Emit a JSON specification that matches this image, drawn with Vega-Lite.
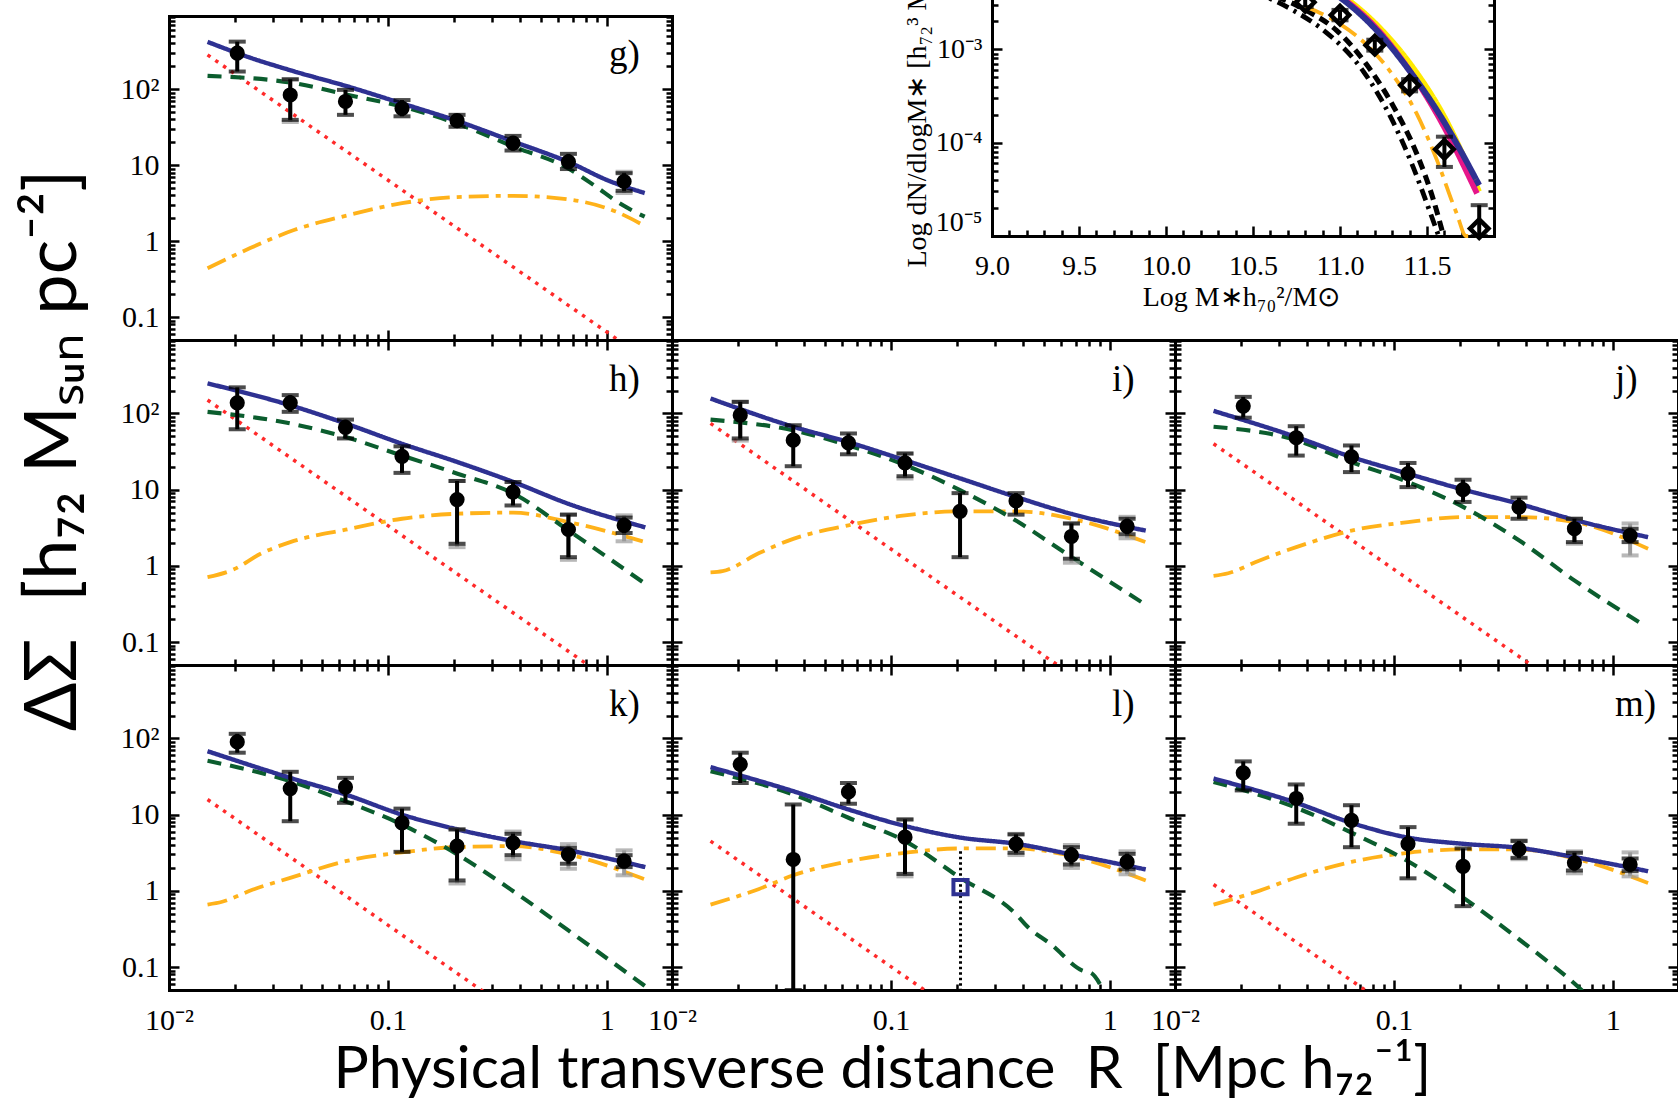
{
"$schema": "https://vega.github.io/schema/vega-lite/v6.json",
"autosize": {"type": "none"},
"padding": {"left": 169, "top": 16, "right": 1509, "bottom": 1082},
"background": "white",
"config": {
  "view": {"stroke": null},
  "axis": {"grid": false, "domainColor": "#000", "domainWidth": 3, "domainCap": "square", "tickColor": "#000", "tickWidth": 2.5, "labelColor": "#000", "labelFont": "Liberation Serif", "labelFontSize": 30, "labelOverlap": false, "titleColor": "#000", "titleFontWeight": "normal"}
},
"datasets": {
  "lines": [
    {"p":"g","s":"red","R":0.015,"v":283},{"p":"g","s":"red","R":1.5,"v":0.0283},
    {"p":"g","s":"org","R":0.015,"v":0.44},{"p":"g","s":"org","R":0.0235,"v":0.81},{"p":"g","s":"org","R":0.0375,"v":1.41},{"p":"g","s":"org","R":0.066,"v":2.2},{"p":"g","s":"org","R":0.116,"v":3.16},{"p":"g","s":"org","R":0.203,"v":3.8},{"p":"g","s":"org","R":0.374,"v":3.95},{"p":"g","s":"org","R":0.689,"v":3.5},{"p":"g","s":"org","R":1.1,"v":2.45},{"p":"g","s":"org","R":1.46,"v":1.64},
    {"p":"g","s":"grn","R":0.015,"v":150},{"p":"g","s":"grn","R":0.0375,"v":120},{"p":"g","s":"grn","R":0.066,"v":84},{"p":"g","s":"grn","R":0.116,"v":59},{"p":"g","s":"grn","R":0.203,"v":36},{"p":"g","s":"grn","R":0.374,"v":17.6},{"p":"g","s":"grn","R":0.664,"v":9.1},{"p":"g","s":"grn","R":0.87,"v":5.5},{"p":"g","s":"grn","R":1.155,"v":3.1},{"p":"g","s":"grn","R":1.49,"v":2.1},
    {"p":"g","s":"blu","R":0.015,"v":420},{"p":"g","s":"blu","R":0.0235,"v":260},{"p":"g","s":"blu","R":0.0375,"v":171},{"p":"g","s":"blu","R":0.066,"v":108},{"p":"g","s":"blu","R":0.116,"v":65},{"p":"g","s":"blu","R":0.203,"v":39},{"p":"g","s":"blu","R":0.374,"v":20.5},{"p":"g","s":"blu","R":0.689,"v":10.6},{"p":"g","s":"blu","R":1.0,"v":6.4},{"p":"g","s":"blu","R":1.49,"v":4.3},

    {"p":"h","s":"red","R":0.015,"v":150},{"p":"h","s":"red","R":1.5,"v":0.015},
    {"p":"h","s":"org","R":0.015,"v":0.71},{"p":"h","s":"org","R":0.0198,"v":0.9},{"p":"h","s":"org","R":0.0262,"v":1.44},{"p":"h","s":"org","R":0.0358,"v":2.05},{"p":"h","s":"org","R":0.064,"v":2.98},{"p":"h","s":"org","R":0.116,"v":4.15},{"p":"h","s":"org","R":0.208,"v":4.83},{"p":"h","s":"org","R":0.374,"v":5.0},{"p":"h","s":"org","R":0.67,"v":3.75},{"p":"h","s":"org","R":1.5,"v":2.05},
    {"p":"h","s":"grn","R":0.015,"v":105},{"p":"h","s":"grn","R":0.0358,"v":74},{"p":"h","s":"grn","R":0.064,"v":49},{"p":"h","s":"grn","R":0.116,"v":28},{"p":"h","s":"grn","R":0.208,"v":16.2},{"p":"h","s":"grn","R":0.374,"v":8.9},{"p":"h","s":"grn","R":0.67,"v":2.9},{"p":"h","s":"grn","R":1.5,"v":0.58},
    {"p":"h","s":"blu","R":0.015,"v":248},{"p":"h","s":"blu","R":0.0358,"v":128},{"p":"h","s":"blu","R":0.064,"v":74},{"p":"h","s":"blu","R":0.116,"v":40},{"p":"h","s":"blu","R":0.208,"v":23},{"p":"h","s":"blu","R":0.374,"v":12.6},{"p":"h","s":"blu","R":0.67,"v":6.5},{"p":"h","s":"blu","R":1.5,"v":3.2},

    {"p":"i","s":"red","R":0.015,"v":74},{"p":"i","s":"red","R":1.5,"v":0.0074},
    {"p":"i","s":"org","R":0.015,"v":0.82},{"p":"i","s":"org","R":0.017,"v":0.85},{"p":"i","s":"org","R":0.025,"v":1.47},{"p":"i","s":"org","R":0.0358,"v":2.26},{"p":"i","s":"org","R":0.064,"v":3.4},{"p":"i","s":"org","R":0.116,"v":4.6},{"p":"i","s":"org","R":0.208,"v":5.2},{"p":"i","s":"org","R":0.374,"v":5.2},{"p":"i","s":"org","R":0.67,"v":4.15},{"p":"i","s":"org","R":1.46,"v":2.05},
    {"p":"i","s":"grn","R":0.015,"v":83},{"p":"i","s":"grn","R":0.0358,"v":60},{"p":"i","s":"grn","R":0.064,"v":38},{"p":"i","s":"grn","R":0.116,"v":21},{"p":"i","s":"grn","R":0.208,"v":9.8},{"p":"i","s":"grn","R":0.374,"v":3.9},{"p":"i","s":"grn","R":0.67,"v":1.3},{"p":"i","s":"grn","R":1.43,"v":0.32},
    {"p":"i","s":"blu","R":0.015,"v":157},{"p":"i","s":"blu","R":0.0358,"v":67},{"p":"i","s":"blu","R":0.064,"v":42},{"p":"i","s":"blu","R":0.116,"v":24.3},{"p":"i","s":"blu","R":0.208,"v":14},{"p":"i","s":"blu","R":0.374,"v":8},{"p":"i","s":"blu","R":0.67,"v":4.8},{"p":"i","s":"blu","R":1.46,"v":2.9},

    {"p":"j","s":"red","R":0.015,"v":40},{"p":"j","s":"red","R":1.5,"v":0.004},
    {"p":"j","s":"org","R":0.015,"v":0.74},{"p":"j","s":"org","R":0.0175,"v":0.8},{"p":"j","s":"org","R":0.0242,"v":1.17},{"p":"j","s":"org","R":0.0358,"v":1.76},{"p":"j","s":"org","R":0.064,"v":2.9},{"p":"j","s":"org","R":0.116,"v":3.75},{"p":"j","s":"org","R":0.208,"v":4.37},{"p":"j","s":"org","R":0.374,"v":4.37},{"p":"j","s":"org","R":0.67,"v":3.75},{"p":"j","s":"org","R":1.45,"v":1.68},
    {"p":"j","s":"grn","R":0.015,"v":67},{"p":"j","s":"grn","R":0.0358,"v":44.6},{"p":"j","s":"grn","R":0.064,"v":23},{"p":"j","s":"grn","R":0.116,"v":12.6},{"p":"j","s":"grn","R":0.208,"v":5.9},{"p":"j","s":"grn","R":0.374,"v":2.15},{"p":"j","s":"grn","R":0.67,"v":0.64},{"p":"j","s":"grn","R":1.4,"v":0.164},
    {"p":"j","s":"blu","R":0.015,"v":108},{"p":"j","s":"blu","R":0.0358,"v":49},{"p":"j","s":"blu","R":0.064,"v":26.9},{"p":"j","s":"blu","R":0.116,"v":16.2},{"p":"j","s":"blu","R":0.208,"v":10},{"p":"j","s":"blu","R":0.374,"v":6.5},{"p":"j","s":"blu","R":0.67,"v":4.0},{"p":"j","s":"blu","R":1.45,"v":2.38},

    {"p":"k","s":"red","R":0.015,"v":15.8},{"p":"k","s":"red","R":1.5,"v":0.00158},
    {"p":"k","s":"org","R":0.015,"v":0.66},{"p":"k","s":"org","R":0.0175,"v":0.72},{"p":"k","s":"org","R":0.0242,"v":1.04},{"p":"k","s":"org","R":0.0358,"v":1.48},{"p":"k","s":"org","R":0.064,"v":2.45},{"p":"k","s":"org","R":0.116,"v":3.2},{"p":"k","s":"org","R":0.208,"v":3.75},{"p":"k","s":"org","R":0.374,"v":3.86},{"p":"k","s":"org","R":0.67,"v":3.0},{"p":"k","s":"org","R":1.5,"v":1.41},
    {"p":"k","s":"grn","R":0.015,"v":51},{"p":"k","s":"grn","R":0.0358,"v":27.5},{"p":"k","s":"grn","R":0.064,"v":15},{"p":"k","s":"grn","R":0.116,"v":7.4},{"p":"k","s":"grn","R":0.208,"v":3.0},{"p":"k","s":"grn","R":0.374,"v":0.99},{"p":"k","s":"grn","R":0.67,"v":0.3},{"p":"k","s":"grn","R":1.5,"v":0.056},
    {"p":"k","s":"blu","R":0.015,"v":68},{"p":"k","s":"blu","R":0.0358,"v":30.4},{"p":"k","s":"blu","R":0.064,"v":18.4},{"p":"k","s":"blu","R":0.116,"v":10},{"p":"k","s":"blu","R":0.208,"v":6.4},{"p":"k","s":"blu","R":0.374,"v":4.5},{"p":"k","s":"blu","R":0.67,"v":3.4},{"p":"k","s":"blu","R":1.5,"v":2.05},

    {"p":"l","s":"red","R":0.015,"v":4.5},{"p":"l","s":"red","R":1.5,"v":0.00045},
    {"p":"l","s":"org","R":0.015,"v":0.66},{"p":"l","s":"org","R":0.025,"v":1.06},{"p":"l","s":"org","R":0.0358,"v":1.6},{"p":"l","s":"org","R":0.064,"v":2.45},{"p":"l","s":"org","R":0.116,"v":3.16},{"p":"l","s":"org","R":0.208,"v":3.6},{"p":"l","s":"org","R":0.374,"v":3.6},{"p":"l","s":"org","R":0.67,"v":2.85},{"p":"l","s":"org","R":1.46,"v":1.37},
    {"p":"l","s":"grn","R":0.015,"v":37},{"p":"l","s":"grn","R":0.0358,"v":18.4},{"p":"l","s":"grn","R":0.064,"v":9.1},{"p":"l","s":"grn","R":0.116,"v":4.5},{"p":"l","s":"grn","R":0.208,"v":1.48},{"p":"l","s":"grn","R":0.374,"v":0.49},{"p":"l","s":"grn","R":0.42,"v":0.34},{"p":"l","s":"grn","R":0.54,"v":0.198},{"p":"l","s":"grn","R":0.75,"v":0.09},{"p":"l","s":"grn","R":0.82,"v":0.084},{"p":"l","s":"grn","R":0.95,"v":0.045},
    {"p":"l","s":"blu","R":0.015,"v":42},{"p":"l","s":"blu","R":0.0358,"v":20.3},{"p":"l","s":"blu","R":0.064,"v":11.7},{"p":"l","s":"blu","R":0.116,"v":7.1},{"p":"l","s":"blu","R":0.208,"v":5.0},{"p":"l","s":"blu","R":0.374,"v":4.14},{"p":"l","s":"blu","R":0.67,"v":3.0},{"p":"l","s":"blu","R":1.46,"v":1.91},

    {"p":"m","s":"red","R":0.015,"v":1.21},{"p":"m","s":"red","R":1.5,"v":0.000121},
    {"p":"m","s":"org","R":0.015,"v":0.66},{"p":"m","s":"org","R":0.0242,"v":1.0},{"p":"m","s":"org","R":0.0358,"v":1.5},{"p":"m","s":"org","R":0.064,"v":2.4},{"p":"m","s":"org","R":0.116,"v":3.16},{"p":"m","s":"org","R":0.208,"v":3.5},{"p":"m","s":"org","R":0.374,"v":3.5},{"p":"m","s":"org","R":0.67,"v":2.66},{"p":"m","s":"org","R":1.45,"v":1.27},
    {"p":"m","s":"grn","R":0.015,"v":26.9},{"p":"m","s":"grn","R":0.0358,"v":12.3},{"p":"m","s":"grn","R":0.064,"v":5.8},{"p":"m","s":"grn","R":0.116,"v":2.45},{"p":"m","s":"grn","R":0.208,"v":0.81},{"p":"m","s":"grn","R":0.374,"v":0.23},{"p":"m","s":"grn","R":0.69,"v":0.056},{"p":"m","s":"grn","R":0.75,"v":0.045},
    {"p":"m","s":"blu","R":0.015,"v":29.8},{"p":"m","s":"blu","R":0.0358,"v":14.3},{"p":"m","s":"blu","R":0.064,"v":7.8},{"p":"m","s":"blu","R":0.116,"v":5.0},{"p":"m","s":"blu","R":0.208,"v":4.14},{"p":"m","s":"blu","R":0.374,"v":3.66},{"p":"m","s":"blu","R":0.67,"v":2.77},{"p":"m","s":"blu","R":1.45,"v":1.81}
  ],
  "pts": [
    {"p":"g","R":0.0205,"v":298,"lo":171,"hi":423},{"p":"g","R":0.0358,"v":84,"lo":39.5,"hi":135},{"p":"g","R":0.064,"v":69,"lo":46,"hi":98},{"p":"g","R":0.116,"v":56,"lo":44,"hi":72},{"p":"g","R":0.207,"v":38.6,"lo":32,"hi":46},{"p":"g","R":0.373,"v":19.5,"lo":15.6,"hi":24.3},{"p":"g","R":0.668,"v":11.1,"lo":8.9,"hi":14.1},{"p":"g","R":1.2,"v":6.1,"lo":4.6,"hi":7.85},
    {"p":"h","R":0.0205,"v":138,"lo":62,"hi":220},{"p":"h","R":0.0358,"v":138,"lo":105,"hi":174},{"p":"h","R":0.064,"v":65.5,"lo":47,"hi":83},{"p":"h","R":0.116,"v":27.4,"lo":16.6,"hi":37},{"p":"h","R":0.207,"v":7.4,"lo":1.95,"hi":13},{"p":"h","R":0.373,"v":9.3,"lo":6.2,"hi":12.6},{"p":"h","R":0.668,"v":3.0,"lo":1.3,"hi":4.7},{"p":"h","R":1.2,"v":3.4,"lo":2.7,"hi":4.3},
    {"p":"i","R":0.0205,"v":95,"lo":47,"hi":142},{"p":"i","R":0.0358,"v":44.6,"lo":20.3,"hi":70},{"p":"i","R":0.064,"v":41,"lo":29.1,"hi":54.6},{"p":"i","R":0.116,"v":22.4,"lo":15,"hi":29.8},{"p":"i","R":0.207,"v":5.2,"lo":1.3,"hi":9},{"p":"i","R":0.373,"v":7.1,"lo":4.7,"hi":9},{"p":"i","R":0.668,"v":2.43,"lo":1.24,"hi":3.6},{"p":"i","R":1.2,"v":3.3,"lo":2.6,"hi":4.15},
    {"p":"j","R":0.0205,"v":125,"lo":88,"hi":165},{"p":"j","R":0.0358,"v":48,"lo":28,"hi":68},{"p":"j","R":0.064,"v":27,"lo":17,"hi":38},{"p":"j","R":0.116,"v":16.2,"lo":10.8,"hi":22.4},{"p":"j","R":0.207,"v":10,"lo":6.9,"hi":13.5},{"p":"j","R":0.373,"v":5.9,"lo":4.15,"hi":7.85},{"p":"j","R":0.668,"v":3.07,"lo":2.05,"hi":4.15},{"p":"j","R":1.2,"v":2.5,"lo":2.05,"hi":3.07},
    {"p":"k","R":0.0205,"v":90,"lo":65,"hi":115},{"p":"k","R":0.0358,"v":22,"lo":8.2,"hi":36.5},{"p":"k","R":0.064,"v":23,"lo":14.3,"hi":30.4},{"p":"k","R":0.116,"v":7.8,"lo":3.25,"hi":12},{"p":"k","R":0.207,"v":3.86,"lo":1.37,"hi":6.4},{"p":"k","R":0.373,"v":4.27,"lo":2.94,"hi":5.6},{"p":"k","R":0.668,"v":3.0,"lo":2.27,"hi":3.66},{"p":"k","R":1.2,"v":2.45,"lo":2.05,"hi":2.94},
    {"p":"l","R":0.0205,"v":45.6,"lo":26,"hi":65},{"p":"l","R":0.0358,"v":2.58,"lo":0.05,"hi":13.6},{"p":"l","R":0.064,"v":19.9,"lo":13.9,"hi":26},{"p":"l","R":0.116,"v":5.07,"lo":1.67,"hi":8.65},{"p":"l","R":0.373,"v":4.14,"lo":3.16,"hi":5.5},{"p":"l","R":0.668,"v":2.94,"lo":2.22,"hi":3.74},{"p":"l","R":1.2,"v":2.4,"lo":1.91,"hi":3.06},
    {"p":"m","R":0.0205,"v":35.4,"lo":20.8,"hi":50},{"p":"m","R":0.0358,"v":16.3,"lo":7.6,"hi":24.9},{"p":"m","R":0.064,"v":8.4,"lo":3.74,"hi":13.3},{"p":"m","R":0.116,"v":4.14,"lo":1.46,"hi":6.86},{"p":"m","R":0.207,"v":2.1,"lo":0.63,"hi":3.6},{"p":"m","R":0.373,"v":3.5,"lo":2.71,"hi":4.5},{"p":"m","R":0.668,"v":2.33,"lo":1.85,"hi":3.16},{"p":"m","R":1.2,"v":2.22,"lo":1.81,"hi":2.66}
  ],
  "gerr": [
    {"p":"g","R":0.0358,"lo":37,"hi":135},{"p":"g","R":1.2,"lo":4.3,"hi":8.2},
    {"p":"h","R":0.207,"lo":1.76,"hi":13},{"p":"h","R":0.668,"lo":1.2,"hi":4.7},{"p":"h","R":1.2,"lo":2.1,"hi":4.6},
    {"p":"i","R":0.0205,"lo":44,"hi":142},{"p":"i","R":0.116,"lo":14,"hi":29.8},{"p":"i","R":0.668,"lo":1.1,"hi":3.6},{"p":"i","R":1.2,"lo":2.3,"hi":4.4},
    {"p":"j","R":0.668,"lo":1.95,"hi":4.15},{"p":"j","R":1.2,"lo":1.37,"hi":3.6},
    {"p":"k","R":0.207,"lo":1.25,"hi":6.4},{"p":"k","R":0.373,"lo":2.6,"hi":6.0},{"p":"k","R":0.668,"lo":1.95,"hi":4.1},{"p":"k","R":1.2,"lo":1.6,"hi":3.4},
    {"p":"l","R":0.116,"lo":1.55,"hi":8.65},{"p":"l","R":0.373,"lo":2.95,"hi":5.6},{"p":"l","R":0.668,"lo":2.0,"hi":4.0},{"p":"l","R":1.2,"lo":1.65,"hi":3.3},
    {"p":"m","R":0.373,"lo":2.6,"hi":4.6},{"p":"m","R":0.668,"lo":1.7,"hi":3.3},{"p":"m","R":1.2,"lo":1.55,"hi":3.2}
  ],
  "lsp": [{"R":0.208,"v":1.12,"top":3.3,"bot":0.05}],
  "ilines": [
    {"s":"kdd","m":10.5,"n":0.0042},{"s":"kdd","m":10.75,"n":0.0025},{"s":"kdd","m":10.906,"n":0.0016},{"s":"kdd","m":11.136,"n":0.000575},{"s":"kdd","m":11.29,"n":0.00019},{"s":"kdd","m":11.42,"n":0.000055},{"s":"kdd","m":11.52,"n":0.0000175},{"s":"kdd","m":11.567,"n":0.00001},
    {"s":"kda","m":10.55,"n":0.0042},{"s":"kda","m":10.81,"n":0.0026},{"s":"kda","m":10.98,"n":0.0016},{"s":"kda","m":11.155,"n":0.00068},{"s":"kda","m":11.308,"n":0.000243},{"s":"kda","m":11.44,"n":0.000077},{"s":"kda","m":11.538,"n":0.000024},{"s":"kda","m":11.595,"n":0.00001},
    {"s":"org","m":10.6,"n":0.0045},{"s":"org","m":10.75,"n":0.0032},{"s":"org","m":10.98,"n":0.00198},{"s":"org","m":11.136,"n":0.0012},{"s":"org","m":11.29,"n":0.000575},{"s":"org","m":11.44,"n":0.000206},{"s":"org","m":11.557,"n":0.000065},{"s":"org","m":11.67,"n":0.0000175},{"s":"org","m":11.725,"n":0.00001},{"s":"org","m":11.78,"n":0.00001},
    {"s":"yel","m":10.8,"n":0.0063},{"s":"yel","m":11.05,"n":0.00338},{"s":"yel","m":11.23,"n":0.0017},{"s":"yel","m":11.41,"n":0.00068},{"s":"yel","m":11.6,"n":0.00019},{"s":"yel","m":11.8,"n":0.00003},
    {"s":"mag","m":10.8,"n":0.006},{"s":"mag","m":11.03,"n":0.00338},{"s":"mag","m":11.21,"n":0.00168},{"s":"mag","m":11.385,"n":0.00065},{"s":"mag","m":11.576,"n":0.000175},{"s":"mag","m":11.787,"n":0.0000286},
    {"s":"nav","m":10.8,"n":0.0059},{"s":"nav","m":11.02,"n":0.00338},{"s":"nav","m":11.2,"n":0.00168},{"s":"nav","m":11.38,"n":0.00066},{"s":"nav","m":11.58,"n":0.00019},{"s":"nav","m":11.8,"n":0.000035}
  ],
  "ipts": [
    {"m":10.8,"n":0.0032,"lo":0.00285,"hi":0.0036},{"m":11.0,"n":0.00233,"lo":0.00205,"hi":0.00265},{"m":11.2,"n":0.00111,"lo":0.00097,"hi":0.00127},{"m":11.4,"n":0.000414,"lo":0.000355,"hi":0.00048},{"m":11.6,"n":0.000085,"lo":0.000055,"hi":0.000116},{"m":11.8,"n":0.000012,"lo":0.00001,"hi":0.0000214}
  ]
},
"columns": 3,
"spacing": 0,
"bounds": "flush",
"align": "each",
"concat": [
  {
    "width": 503, "height": 324,
    "resolve": {"scale": {"x": "independent", "y": "independent"}, "axis": {"x": "independent", "y": "independent"}},
    "layer": [
      {
        "resolve": {"axis": {"x": "independent", "y": "independent"}},
        "layer": [
          {"data": {"name": "lines"}, "transform": [{"filter": "datum.p=='g'"}],
           "mark": {"type": "line", "clip": true, "interpolate": "monotone", "strokeCap": "butt"},
           "encoding": {
             "x": {"field": "R", "type": "quantitative", "scale": {"type": "log", "domain": [0.01, 1.986], "nice": false},
                   "axis": {"orient": "bottom", "values": [0.01,0.02,0.03,0.04,0.05,0.06,0.07,0.08,0.09,0.1,0.2,0.3,0.4,0.5,0.6,0.7,0.8,0.9,1], "tickSize": {"condition": {"test": "datum.value==0.01||datum.value==0.1||datum.value==1", "value": -10}, "value": -6}, "labels": false, "title": null}},
             "y": {"field": "v", "type": "quantitative", "scale": {"type": "log", "domain": [0.05, 920], "nice": false},
                   "axis": {"orient": "left", "values": [0.05,0.06,0.07,0.08,0.09,0.1,0.2,0.3,0.4,0.5,0.6,0.7,0.8,0.9,1,2,3,4,5,6,7,8,9,10,20,30,40,50,60,70,80,90,100,200,300,400,500,600,700,800,900], "tickSize": {"condition": {"test": "datum.value==0.1||datum.value==1||datum.value==10||datum.value==100", "value": -10}, "value": -6}, "labelExpr": "datum.value==0.1?'0.1':datum.value==1?'1':datum.value==10?'10':datum.value==100?'10²':''", "labelPadding": 20, "title": null}},
             "color": {"field": "s", "type": "nominal", "legend": null, "scale": {"domain": ["red","org","grn","blu","kdd","kda","yel","mag","nav"], "range": ["#ff2a2a","#ffb21a","#0b5d2e","#2e3192","#000000","#000000","#ffea00","#e6168a","#2e3192"]}},
             "strokeDash": {"field": "s", "type": "nominal", "legend": null, "scale": {"domain": ["red","org","grn","blu","kdd","kda","yel","mag","nav"], "range": [[3.5,6],[20,7,5,7],[14,9],[1,0],[12,6,3,6],[10,6],[1,0],[1,0],[1,0]]}},
             "strokeWidth": {"field": "s", "type": "nominal", "legend": null, "scale": {"domain": ["red","org","grn","blu","kdd","kda","yel","mag","nav"], "range": [3.5,6,4.5,4.5,4,4,6,5,2]}}
           }},
          {"data": {"name": "gerr"}, "transform": [{"filter": "datum.p=='g'"}], "mark": {"type": "errorbar", "ticks": true, "size": 17, "thickness": 4, "color": "#9a9a9a"},
           "encoding": {"x": {"field": "R", "type": "quantitative", "axis": null}, "y": {"field": "lo", "type": "quantitative", "axis": null}, "y2": {"field": "hi"}}},
          {"data": {"name": "pts"}, "transform": [{"filter": "datum.p=='g'"}], "mark": {"type": "errorbar", "ticks": true, "size": 17, "thickness": 4, "color": "#000"},
           "encoding": {"x": {"field": "R", "type": "quantitative", "axis": null}, "y": {"field": "lo", "type": "quantitative", "axis": null}, "y2": {"field": "hi"}}},
          {"data": {"name": "pts"}, "transform": [{"filter": "datum.p=='g'"}], "mark": {"type": "point", "filled": true, "shape": "circle", "size": 230, "color": "#000", "opacity": 1},
           "encoding": {
             "x": {"field": "R", "type": "quantitative", "axis": {"orient": "top", "values": [0.01,0.02,0.03,0.04,0.05,0.06,0.07,0.08,0.09,0.1,0.2,0.3,0.4,0.5,0.6,0.7,0.8,0.9,1], "tickSize": {"condition": {"test": "datum.value==0.01||datum.value==0.1||datum.value==1", "value": -10}, "value": -6}, "labels": false, "title": null}},
             "y": {"field": "v", "type": "quantitative", "axis": {"orient": "right", "values": [0.05,0.06,0.07,0.08,0.09,0.1,0.2,0.3,0.4,0.5,0.6,0.7,0.8,0.9,1,2,3,4,5,6,7,8,9,10,20,30,40,50,60,70,80,90,100,200,300,400,500,600,700,800,900], "tickSize": {"condition": {"test": "datum.value==0.1||datum.value==1||datum.value==10||datum.value==100", "value": -10}, "value": -6}, "labels": false, "title": null}}}},
          {"data": {"values": [{}]}, "mark": {"type": "text", "text": "g)", "font": "Liberation Serif", "fontSize": 37, "align": "left", "baseline": "alphabetic", "color": "#000"},
           "encoding": {"x": {"datum": 1.023, "axis": null}, "y": {"datum": 200, "axis": null}}}
        ]
      },
      {
        "resolve": {"axis": {"x": "independent", "y": "independent"}},
        "layer": [
          {"data": {"name": "ilines"},
           "mark": {"type": "line", "clip": false, "interpolate": "monotone", "strokeCap": "butt"},
           "encoding": {
             "x": {"field": "m", "type": "quantitative", "scale": {"domain": [9, 11.885], "range": [823, 1325], "nice": false, "zero": false},
                   "axis": {"orient": "bottom", "offset": -104, "values": [9,9.1,9.2,9.3,9.4,9.5,9.6,9.7,9.8,9.9,10,10.1,10.2,10.3,10.4,10.5,10.6,10.7,10.8,10.9,11,11.1,11.2,11.3,11.4,11.5,11.6,11.7,11.8],
                            "tickSize": {"condition": {"test": "abs(datum.value*2-round(datum.value*2))<0.01", "value": -10}, "value": -6},
                            "labelExpr": "abs(datum.value*2-round(datum.value*2))<0.01 ? format(datum.value,'.1f') : ''",
                            "labelPadding": 26, "labelFontSize": 28, "labelFlush": false,
                            "title": "Log M∗h₇₀²/M⊙", "titleFont": "Liberation Serif", "titleFontSize": 28, "titleX": 1072, "titleY": 69, "titleBaseline": "alphabetic", "titleAlign": "center", "titleAngle": 0}},
             "y": {"field": "n", "type": "quantitative", "scale": {"type": "log", "domain": [0.00001, 0.003384], "range": [220, -16], "nice": false},
                   "axis": {"orient": "left", "offset": -823, "values": [0.00001,0.00002,0.00003,0.00004,0.00005,0.00006,0.00007,0.00008,0.00009,0.0001,0.0002,0.0003,0.0004,0.0005,0.0006,0.0007,0.0008,0.0009,0.001,0.002,0.003],
                            "tickSize": {"condition": {"test": "datum.value==0.00001||datum.value==0.0001||datum.value==0.001", "value": -10}, "value": -6},
                            "labelExpr": "datum.value==0.00001?'10⁻⁵':datum.value==0.0001?'10⁻⁴':datum.value==0.001?'10⁻³':''",
                            "labelPadding": 20, "labelFontSize": 28, "labelFlush": true,
                            "title": "Log dN/dlogM∗ [h₇₂³ M", "titleFont": "Liberation Serif", "titleFontSize": 28, "titleX": -67, "titleY": 251, "titleAlign": "left", "titleBaseline": "alphabetic", "titleAngle": 270}},
             "color": {"field": "s", "type": "nominal", "legend": null, "scale": {"domain": ["red","org","grn","blu","kdd","kda","yel","mag","nav"], "range": ["#ff2a2a","#ffb21a","#0b5d2e","#2e3192","#000000","#000000","#ffea00","#e6168a","#2e3192"]}},
             "strokeDash": {"field": "s", "type": "nominal", "legend": null, "scale": {"domain": ["red","org","grn","blu","kdd","kda","yel","mag","nav"], "range": [[3.5,6],[20,7,5,7],[14,9],[1,0],[12,6,3,6],[10,6],[1,0],[1,0],[1,0]]}},
             "strokeWidth": {"field": "s", "type": "nominal", "legend": null, "scale": {"domain": ["red","org","grn","blu","kdd","kda","yel","mag","nav"], "range": [3.5,6,4.5,4.5,4,4,6,5,2]}}
           }},
          {"data": {"name": "ipts"}, "mark": {"type": "errorbar", "ticks": true, "size": 17, "thickness": 4, "color": "#000"},
           "encoding": {"x": {"field": "m", "type": "quantitative", "axis": null}, "y": {"field": "lo", "type": "quantitative", "axis": null}, "y2": {"field": "hi"}}},
          {"data": {"name": "ipts"}, "mark": {"type": "point", "shape": "diamond", "filled": false, "size": 340, "strokeWidth": 4.5, "color": "#000", "opacity": 1},
           "encoding": {"x": {"field": "m", "type": "quantitative", "axis": null},
                        "y": {"field": "n", "type": "quantitative",
                              "axis": {"orient": "right", "offset": 822, "values": [0.00001,0.00002,0.00003,0.00004,0.00005,0.00006,0.00007,0.00008,0.00009,0.0001,0.0002,0.0003,0.0004,0.0005,0.0006,0.0007,0.0008,0.0009,0.001,0.002,0.003],
                                       "tickSize": {"condition": {"test": "datum.value==0.00001||datum.value==0.0001||datum.value==0.001", "value": -10}, "value": -6}, "labels": false, "title": null}}}}
        ]
      }
    ]
  },
  {"width": 10, "height": 10, "data": {"values": [{}]}, "mark": {"type": "point", "opacity": 0}},
  {"width": 10, "height": 10, "data": {"values": [{}]}, "mark": {"type": "point", "opacity": 0}},

  {
    "width": 503, "height": 325,
    "resolve": {"axis": {"x": "independent", "y": "independent"}},
    "layer": [
      {"data": {"name": "lines"}, "transform": [{"filter": "datum.p=='h'"}],
       "mark": {"type": "line", "clip": true, "interpolate": "monotone", "strokeCap": "butt"},
       "encoding": {
         "x": {"field": "R", "type": "quantitative", "scale": {"type": "log", "domain": [0.01, 1.986], "nice": false},
               "axis": {"orient": "bottom", "values": [0.01,0.02,0.03,0.04,0.05,0.06,0.07,0.08,0.09,0.1,0.2,0.3,0.4,0.5,0.6,0.7,0.8,0.9,1], "tickSize": {"condition": {"test": "datum.value==0.01||datum.value==0.1||datum.value==1", "value": -10}, "value": -6}, "labels": false, "title": null}},
         "y": {"field": "v", "type": "quantitative", "scale": {"type": "log", "domain": [0.05, 920], "nice": false},
               "axis": {"orient": "left", "values": [0.05,0.06,0.07,0.08,0.09,0.1,0.2,0.3,0.4,0.5,0.6,0.7,0.8,0.9,1,2,3,4,5,6,7,8,9,10,20,30,40,50,60,70,80,90,100,200,300,400,500,600,700,800,900], "tickSize": {"condition": {"test": "datum.value==0.1||datum.value==1||datum.value==10||datum.value==100", "value": -10}, "value": -6}, "labelExpr": "datum.value==0.1?'0.1':datum.value==1?'1':datum.value==10?'10':datum.value==100?'10²':''", "labelPadding": 20,
                        "title": "ΔΣ\u00a0\u00a0[h₇₂ Mₛᵤₙ pc⁻²]", "titleFont": "Lato", "titleFontSize": 72, "titleX": -94, "titleY": 110, "titleAlign": "center", "titleBaseline": "alphabetic", "titleAngle": 270}},
         "color": {"field": "s", "type": "nominal", "legend": null, "scale": {"domain": ["red","org","grn","blu","kdd","kda","yel","mag","nav"], "range": ["#ff2a2a","#ffb21a","#0b5d2e","#2e3192","#000000","#000000","#ffea00","#e6168a","#2e3192"]}},
         "strokeDash": {"field": "s", "type": "nominal", "legend": null, "scale": {"domain": ["red","org","grn","blu","kdd","kda","yel","mag","nav"], "range": [[3.5,6],[20,7,5,7],[14,9],[1,0],[12,6,3,6],[10,6],[1,0],[1,0],[1,0]]}},
         "strokeWidth": {"field": "s", "type": "nominal", "legend": null, "scale": {"domain": ["red","org","grn","blu","kdd","kda","yel","mag","nav"], "range": [3.5,6,4.5,4.5,4,4,6,5,2]}}
       }},
      {"data": {"name": "gerr"}, "transform": [{"filter": "datum.p=='h'"}], "mark": {"type": "errorbar", "ticks": true, "size": 17, "thickness": 4, "color": "#9a9a9a"},
       "encoding": {"x": {"field": "R", "type": "quantitative", "axis": null}, "y": {"field": "lo", "type": "quantitative", "axis": null}, "y2": {"field": "hi"}}},
      {"data": {"name": "pts"}, "transform": [{"filter": "datum.p=='h'"}], "mark": {"type": "errorbar", "ticks": true, "size": 17, "thickness": 4, "color": "#000"},
       "encoding": {"x": {"field": "R", "type": "quantitative", "axis": null}, "y": {"field": "lo", "type": "quantitative", "axis": null}, "y2": {"field": "hi"}}},
      {"data": {"name": "pts"}, "transform": [{"filter": "datum.p=='h'"}], "mark": {"type": "point", "filled": true, "shape": "circle", "size": 230, "color": "#000", "opacity": 1},
       "encoding": {
         "x": {"field": "R", "type": "quantitative", "axis": {"orient": "top", "values": [0.01,0.02,0.03,0.04,0.05,0.06,0.07,0.08,0.09,0.1,0.2,0.3,0.4,0.5,0.6,0.7,0.8,0.9,1], "tickSize": {"condition": {"test": "datum.value==0.01||datum.value==0.1||datum.value==1", "value": -10}, "value": -6}, "labels": false, "title": null}},
         "y": {"field": "v", "type": "quantitative", "axis": {"orient": "right", "values": [0.05,0.06,0.07,0.08,0.09,0.1,0.2,0.3,0.4,0.5,0.6,0.7,0.8,0.9,1,2,3,4,5,6,7,8,9,10,20,30,40,50,60,70,80,90,100,200,300,400,500,600,700,800,900], "tickSize": {"condition": {"test": "datum.value==0.1||datum.value==1||datum.value==10||datum.value==100", "value": -10}, "value": -6}, "labels": false, "title": null}}}},
      {"data": {"values": [{}]}, "mark": {"type": "text", "text": "h)", "font": "Liberation Serif", "fontSize": 37, "align": "left", "baseline": "alphabetic", "color": "#000"},
       "encoding": {"x": {"datum": 1.023, "axis": null}, "y": {"datum": 200, "axis": null}}}
    ]
  },
  {
    "width": 503, "height": 325,
    "resolve": {"axis": {"x": "independent", "y": "independent"}},
    "layer": [
      {"data": {"name": "lines"}, "transform": [{"filter": "datum.p=='i'"}],
       "mark": {"type": "line", "clip": true, "interpolate": "monotone", "strokeCap": "butt"},
       "encoding": {
         "x": {"field": "R", "type": "quantitative", "scale": {"type": "log", "domain": [0.01, 1.986], "nice": false},
               "axis": {"orient": "bottom", "values": [0.01,0.02,0.03,0.04,0.05,0.06,0.07,0.08,0.09,0.1,0.2,0.3,0.4,0.5,0.6,0.7,0.8,0.9,1], "tickSize": {"condition": {"test": "datum.value==0.01||datum.value==0.1||datum.value==1", "value": -10}, "value": -6}, "labels": false, "title": null}},
         "y": {"field": "v", "type": "quantitative", "scale": {"type": "log", "domain": [0.05, 920], "nice": false},
               "axis": {"orient": "left", "values": [0.05,0.06,0.07,0.08,0.09,0.1,0.2,0.3,0.4,0.5,0.6,0.7,0.8,0.9,1,2,3,4,5,6,7,8,9,10,20,30,40,50,60,70,80,90,100,200,300,400,500,600,700,800,900], "tickSize": {"condition": {"test": "datum.value==0.1||datum.value==1||datum.value==10||datum.value==100", "value": -10}, "value": -6}, "labels": false, "title": null}},
         "color": {"field": "s", "type": "nominal", "legend": null, "scale": {"domain": ["red","org","grn","blu","kdd","kda","yel","mag","nav"], "range": ["#ff2a2a","#ffb21a","#0b5d2e","#2e3192","#000000","#000000","#ffea00","#e6168a","#2e3192"]}},
         "strokeDash": {"field": "s", "type": "nominal", "legend": null, "scale": {"domain": ["red","org","grn","blu","kdd","kda","yel","mag","nav"], "range": [[3.5,6],[20,7,5,7],[14,9],[1,0],[12,6,3,6],[10,6],[1,0],[1,0],[1,0]]}},
         "strokeWidth": {"field": "s", "type": "nominal", "legend": null, "scale": {"domain": ["red","org","grn","blu","kdd","kda","yel","mag","nav"], "range": [3.5,6,4.5,4.5,4,4,6,5,2]}}
       }},
      {"data": {"name": "gerr"}, "transform": [{"filter": "datum.p=='i'"}], "mark": {"type": "errorbar", "ticks": true, "size": 17, "thickness": 4, "color": "#9a9a9a"},
       "encoding": {"x": {"field": "R", "type": "quantitative", "axis": null}, "y": {"field": "lo", "type": "quantitative", "axis": null}, "y2": {"field": "hi"}}},
      {"data": {"name": "pts"}, "transform": [{"filter": "datum.p=='i'"}], "mark": {"type": "errorbar", "ticks": true, "size": 17, "thickness": 4, "color": "#000"},
       "encoding": {"x": {"field": "R", "type": "quantitative", "axis": null}, "y": {"field": "lo", "type": "quantitative", "axis": null}, "y2": {"field": "hi"}}},
      {"data": {"name": "pts"}, "transform": [{"filter": "datum.p=='i'"}], "mark": {"type": "point", "filled": true, "shape": "circle", "size": 230, "color": "#000", "opacity": 1},
       "encoding": {
         "x": {"field": "R", "type": "quantitative", "axis": {"orient": "top", "values": [0.01,0.02,0.03,0.04,0.05,0.06,0.07,0.08,0.09,0.1,0.2,0.3,0.4,0.5,0.6,0.7,0.8,0.9,1], "tickSize": {"condition": {"test": "datum.value==0.01||datum.value==0.1||datum.value==1", "value": -10}, "value": -6}, "labels": false, "title": null}},
         "y": {"field": "v", "type": "quantitative", "axis": {"orient": "right", "values": [0.05,0.06,0.07,0.08,0.09,0.1,0.2,0.3,0.4,0.5,0.6,0.7,0.8,0.9,1,2,3,4,5,6,7,8,9,10,20,30,40,50,60,70,80,90,100,200,300,400,500,600,700,800,900], "tickSize": {"condition": {"test": "datum.value==0.1||datum.value==1||datum.value==10||datum.value==100", "value": -10}, "value": -6}, "labels": false, "title": null}}}},
      {"data": {"values": [{}]}, "mark": {"type": "text", "text": "i)", "font": "Liberation Serif", "fontSize": 37, "align": "left", "baseline": "alphabetic", "color": "#000"},
       "encoding": {"x": {"datum": 1.023, "axis": null}, "y": {"datum": 200, "axis": null}}}
    ]
  },
  {
    "width": 503, "height": 325,
    "resolve": {"axis": {"x": "independent", "y": "independent"}},
    "layer": [
      {"data": {"name": "lines"}, "transform": [{"filter": "datum.p=='j'"}],
       "mark": {"type": "line", "clip": true, "interpolate": "monotone", "strokeCap": "butt"},
       "encoding": {
         "x": {"field": "R", "type": "quantitative", "scale": {"type": "log", "domain": [0.01, 1.986], "nice": false},
               "axis": {"orient": "bottom", "values": [0.01,0.02,0.03,0.04,0.05,0.06,0.07,0.08,0.09,0.1,0.2,0.3,0.4,0.5,0.6,0.7,0.8,0.9,1], "tickSize": {"condition": {"test": "datum.value==0.01||datum.value==0.1||datum.value==1", "value": -10}, "value": -6}, "labels": false, "title": null}},
         "y": {"field": "v", "type": "quantitative", "scale": {"type": "log", "domain": [0.05, 920], "nice": false},
               "axis": {"orient": "left", "values": [0.05,0.06,0.07,0.08,0.09,0.1,0.2,0.3,0.4,0.5,0.6,0.7,0.8,0.9,1,2,3,4,5,6,7,8,9,10,20,30,40,50,60,70,80,90,100,200,300,400,500,600,700,800,900], "tickSize": {"condition": {"test": "datum.value==0.1||datum.value==1||datum.value==10||datum.value==100", "value": -10}, "value": -6}, "labels": false, "title": null}},
         "color": {"field": "s", "type": "nominal", "legend": null, "scale": {"domain": ["red","org","grn","blu","kdd","kda","yel","mag","nav"], "range": ["#ff2a2a","#ffb21a","#0b5d2e","#2e3192","#000000","#000000","#ffea00","#e6168a","#2e3192"]}},
         "strokeDash": {"field": "s", "type": "nominal", "legend": null, "scale": {"domain": ["red","org","grn","blu","kdd","kda","yel","mag","nav"], "range": [[3.5,6],[20,7,5,7],[14,9],[1,0],[12,6,3,6],[10,6],[1,0],[1,0],[1,0]]}},
         "strokeWidth": {"field": "s", "type": "nominal", "legend": null, "scale": {"domain": ["red","org","grn","blu","kdd","kda","yel","mag","nav"], "range": [3.5,6,4.5,4.5,4,4,6,5,2]}}
       }},
      {"data": {"name": "gerr"}, "transform": [{"filter": "datum.p=='j'"}], "mark": {"type": "errorbar", "ticks": true, "size": 17, "thickness": 4, "color": "#9a9a9a"},
       "encoding": {"x": {"field": "R", "type": "quantitative", "axis": null}, "y": {"field": "lo", "type": "quantitative", "axis": null}, "y2": {"field": "hi"}}},
      {"data": {"name": "pts"}, "transform": [{"filter": "datum.p=='j'"}], "mark": {"type": "errorbar", "ticks": true, "size": 17, "thickness": 4, "color": "#000"},
       "encoding": {"x": {"field": "R", "type": "quantitative", "axis": null}, "y": {"field": "lo", "type": "quantitative", "axis": null}, "y2": {"field": "hi"}}},
      {"data": {"name": "pts"}, "transform": [{"filter": "datum.p=='j'"}], "mark": {"type": "point", "filled": true, "shape": "circle", "size": 230, "color": "#000", "opacity": 1},
       "encoding": {
         "x": {"field": "R", "type": "quantitative", "axis": {"orient": "top", "values": [0.01,0.02,0.03,0.04,0.05,0.06,0.07,0.08,0.09,0.1,0.2,0.3,0.4,0.5,0.6,0.7,0.8,0.9,1], "tickSize": {"condition": {"test": "datum.value==0.01||datum.value==0.1||datum.value==1", "value": -10}, "value": -6}, "labels": false, "title": null}},
         "y": {"field": "v", "type": "quantitative", "axis": {"orient": "right", "values": [0.05,0.06,0.07,0.08,0.09,0.1,0.2,0.3,0.4,0.5,0.6,0.7,0.8,0.9,1,2,3,4,5,6,7,8,9,10,20,30,40,50,60,70,80,90,100,200,300,400,500,600,700,800,900], "tickSize": {"condition": {"test": "datum.value==0.1||datum.value==1||datum.value==10||datum.value==100", "value": -10}, "value": -6}, "labels": false, "title": null}}}},
      {"data": {"values": [{}]}, "mark": {"type": "text", "text": "j)", "font": "Liberation Serif", "fontSize": 37, "align": "left", "baseline": "alphabetic", "color": "#000"},
       "encoding": {"x": {"datum": 1.023, "axis": null}, "y": {"datum": 200, "axis": null}}}
    ]
  },

  {
    "width": 503, "height": 325,
    "resolve": {"axis": {"x": "independent", "y": "independent"}},
    "layer": [
      {"data": {"name": "lines"}, "transform": [{"filter": "datum.p=='k'"}],
       "mark": {"type": "line", "clip": true, "interpolate": "monotone", "strokeCap": "butt"},
       "encoding": {
         "x": {"field": "R", "type": "quantitative", "scale": {"type": "log", "domain": [0.01, 1.986], "nice": false},
               "axis": {"orient": "bottom", "values": [0.01,0.02,0.03,0.04,0.05,0.06,0.07,0.08,0.09,0.1,0.2,0.3,0.4,0.5,0.6,0.7,0.8,0.9,1], "tickSize": {"condition": {"test": "datum.value==0.01||datum.value==0.1||datum.value==1", "value": -10}, "value": -6}, "labelExpr": "datum.value==0.01?'10⁻²':datum.value==0.1?'0.1':datum.value==1?'1':''", "labelPadding": 25, "labelFlush": false, "title": null}},
         "y": {"field": "v", "type": "quantitative", "scale": {"type": "log", "domain": [0.05, 920], "nice": false},
               "axis": {"orient": "left", "values": [0.05,0.06,0.07,0.08,0.09,0.1,0.2,0.3,0.4,0.5,0.6,0.7,0.8,0.9,1,2,3,4,5,6,7,8,9,10,20,30,40,50,60,70,80,90,100,200,300,400,500,600,700,800,900], "tickSize": {"condition": {"test": "datum.value==0.1||datum.value==1||datum.value==10||datum.value==100", "value": -10}, "value": -6}, "labelExpr": "datum.value==0.1?'0.1':datum.value==1?'1':datum.value==10?'10':datum.value==100?'10²':''", "labelPadding": 20, "title": null}},
         "color": {"field": "s", "type": "nominal", "legend": null, "scale": {"domain": ["red","org","grn","blu","kdd","kda","yel","mag","nav"], "range": ["#ff2a2a","#ffb21a","#0b5d2e","#2e3192","#000000","#000000","#ffea00","#e6168a","#2e3192"]}},
         "strokeDash": {"field": "s", "type": "nominal", "legend": null, "scale": {"domain": ["red","org","grn","blu","kdd","kda","yel","mag","nav"], "range": [[3.5,6],[20,7,5,7],[14,9],[1,0],[12,6,3,6],[10,6],[1,0],[1,0],[1,0]]}},
         "strokeWidth": {"field": "s", "type": "nominal", "legend": null, "scale": {"domain": ["red","org","grn","blu","kdd","kda","yel","mag","nav"], "range": [3.5,6,4.5,4.5,4,4,6,5,2]}}
       }},
      {"data": {"name": "gerr"}, "transform": [{"filter": "datum.p=='k'"}], "mark": {"type": "errorbar", "ticks": true, "size": 17, "thickness": 4, "color": "#9a9a9a"},
       "encoding": {"x": {"field": "R", "type": "quantitative", "axis": null}, "y": {"field": "lo", "type": "quantitative", "axis": null}, "y2": {"field": "hi"}}},
      {"data": {"name": "pts"}, "transform": [{"filter": "datum.p=='k'"}], "mark": {"type": "errorbar", "ticks": true, "size": 17, "thickness": 4, "color": "#000"},
       "encoding": {"x": {"field": "R", "type": "quantitative", "axis": null}, "y": {"field": "lo", "type": "quantitative", "axis": null}, "y2": {"field": "hi"}}},
      {"data": {"name": "pts"}, "transform": [{"filter": "datum.p=='k'"}], "mark": {"type": "point", "filled": true, "shape": "circle", "size": 230, "color": "#000", "opacity": 1},
       "encoding": {
         "x": {"field": "R", "type": "quantitative", "axis": {"orient": "top", "values": [0.01,0.02,0.03,0.04,0.05,0.06,0.07,0.08,0.09,0.1,0.2,0.3,0.4,0.5,0.6,0.7,0.8,0.9,1], "tickSize": {"condition": {"test": "datum.value==0.01||datum.value==0.1||datum.value==1", "value": -10}, "value": -6}, "labels": false, "title": null}},
         "y": {"field": "v", "type": "quantitative", "axis": {"orient": "right", "values": [0.05,0.06,0.07,0.08,0.09,0.1,0.2,0.3,0.4,0.5,0.6,0.7,0.8,0.9,1,2,3,4,5,6,7,8,9,10,20,30,40,50,60,70,80,90,100,200,300,400,500,600,700,800,900], "tickSize": {"condition": {"test": "datum.value==0.1||datum.value==1||datum.value==10||datum.value==100", "value": -10}, "value": -6}, "labels": false, "title": null}}}},
      {"data": {"values": [{}]}, "mark": {"type": "text", "text": "k)", "font": "Liberation Serif", "fontSize": 37, "align": "left", "baseline": "alphabetic", "color": "#000"},
       "encoding": {"x": {"datum": 1.023, "axis": null}, "y": {"datum": 200, "axis": null}}}
    ]
  },
  {
    "width": 503, "height": 325,
    "resolve": {"axis": {"x": "independent", "y": "independent"}},
    "layer": [
      {"data": {"name": "lines"}, "transform": [{"filter": "datum.p=='l'"}],
       "mark": {"type": "line", "clip": true, "interpolate": "monotone", "strokeCap": "butt"},
       "encoding": {
         "x": {"field": "R", "type": "quantitative", "scale": {"type": "log", "domain": [0.01, 1.986], "nice": false},
               "axis": {"orient": "bottom", "values": [0.01,0.02,0.03,0.04,0.05,0.06,0.07,0.08,0.09,0.1,0.2,0.3,0.4,0.5,0.6,0.7,0.8,0.9,1], "tickSize": {"condition": {"test": "datum.value==0.01||datum.value==0.1||datum.value==1", "value": -10}, "value": -6}, "labelExpr": "datum.value==0.01?'10⁻²':datum.value==0.1?'0.1':datum.value==1?'1':''", "labelPadding": 25, "labelFlush": false,
                        "title": "Physical transverse distance\u00a0\u00a0R\u00a0\u00a0[Mpc h₇₂⁻¹]", "titleFont": "Lato", "titleFontSize": 59, "titleX": 210, "titleY": 97, "titleAlign": "center", "titleBaseline": "alphabetic", "titleAngle": 0}},
         "y": {"field": "v", "type": "quantitative", "scale": {"type": "log", "domain": [0.05, 920], "nice": false},
               "axis": {"orient": "left", "values": [0.05,0.06,0.07,0.08,0.09,0.1,0.2,0.3,0.4,0.5,0.6,0.7,0.8,0.9,1,2,3,4,5,6,7,8,9,10,20,30,40,50,60,70,80,90,100,200,300,400,500,600,700,800,900], "tickSize": {"condition": {"test": "datum.value==0.1||datum.value==1||datum.value==10||datum.value==100", "value": -10}, "value": -6}, "labels": false, "title": null}},
         "color": {"field": "s", "type": "nominal", "legend": null, "scale": {"domain": ["red","org","grn","blu","kdd","kda","yel","mag","nav"], "range": ["#ff2a2a","#ffb21a","#0b5d2e","#2e3192","#000000","#000000","#ffea00","#e6168a","#2e3192"]}},
         "strokeDash": {"field": "s", "type": "nominal", "legend": null, "scale": {"domain": ["red","org","grn","blu","kdd","kda","yel","mag","nav"], "range": [[3.5,6],[20,7,5,7],[14,9],[1,0],[12,6,3,6],[10,6],[1,0],[1,0],[1,0]]}},
         "strokeWidth": {"field": "s", "type": "nominal", "legend": null, "scale": {"domain": ["red","org","grn","blu","kdd","kda","yel","mag","nav"], "range": [3.5,6,4.5,4.5,4,4,6,5,2]}}
       }},
      {"data": {"name": "gerr"}, "transform": [{"filter": "datum.p=='l'"}], "mark": {"type": "errorbar", "ticks": true, "size": 17, "thickness": 4, "color": "#9a9a9a"},
       "encoding": {"x": {"field": "R", "type": "quantitative", "axis": null}, "y": {"field": "lo", "type": "quantitative", "axis": null}, "y2": {"field": "hi"}}},
      {"data": {"name": "pts"}, "transform": [{"filter": "datum.p=='l'"}], "mark": {"type": "errorbar", "ticks": true, "size": 17, "thickness": 4, "color": "#000"},
       "encoding": {"x": {"field": "R", "type": "quantitative", "axis": null}, "y": {"field": "lo", "type": "quantitative", "axis": null}, "y2": {"field": "hi"}}},
      {"data": {"name": "lsp"}, "mark": {"type": "rule", "color": "#000", "strokeWidth": 3, "strokeDash": [2.5, 3]},
       "encoding": {"x": {"field": "R", "type": "quantitative", "axis": null}, "y": {"field": "top", "type": "quantitative", "axis": null}, "y2": {"field": "bot"}}},
      {"data": {"name": "lsp"}, "mark": {"type": "point", "shape": "square", "filled": false, "size": 200, "strokeWidth": 4, "color": "#2e3192", "opacity": 1},
       "encoding": {"x": {"field": "R", "type": "quantitative", "axis": null}, "y": {"field": "v", "type": "quantitative", "axis": null}}},
      {"data": {"name": "pts"}, "transform": [{"filter": "datum.p=='l'"}], "mark": {"type": "point", "filled": true, "shape": "circle", "size": 230, "color": "#000", "opacity": 1},
       "encoding": {
         "x": {"field": "R", "type": "quantitative", "axis": {"orient": "top", "values": [0.01,0.02,0.03,0.04,0.05,0.06,0.07,0.08,0.09,0.1,0.2,0.3,0.4,0.5,0.6,0.7,0.8,0.9,1], "tickSize": {"condition": {"test": "datum.value==0.01||datum.value==0.1||datum.value==1", "value": -10}, "value": -6}, "labels": false, "title": null}},
         "y": {"field": "v", "type": "quantitative", "axis": {"orient": "right", "values": [0.05,0.06,0.07,0.08,0.09,0.1,0.2,0.3,0.4,0.5,0.6,0.7,0.8,0.9,1,2,3,4,5,6,7,8,9,10,20,30,40,50,60,70,80,90,100,200,300,400,500,600,700,800,900], "tickSize": {"condition": {"test": "datum.value==0.1||datum.value==1||datum.value==10||datum.value==100", "value": -10}, "value": -6}, "labels": false, "title": null}}}},
      {"data": {"values": [{}]}, "mark": {"type": "text", "text": "l)", "font": "Liberation Serif", "fontSize": 37, "align": "left", "baseline": "alphabetic", "color": "#000"},
       "encoding": {"x": {"datum": 1.023, "axis": null}, "y": {"datum": 200, "axis": null}}}
    ]
  },
  {
    "width": 503, "height": 325,
    "resolve": {"axis": {"x": "independent", "y": "independent"}},
    "layer": [
      {"data": {"name": "lines"}, "transform": [{"filter": "datum.p=='m'"}],
       "mark": {"type": "line", "clip": true, "interpolate": "monotone", "strokeCap": "butt"},
       "encoding": {
         "x": {"field": "R", "type": "quantitative", "scale": {"type": "log", "domain": [0.01, 1.986], "nice": false},
               "axis": {"orient": "bottom", "values": [0.01,0.02,0.03,0.04,0.05,0.06,0.07,0.08,0.09,0.1,0.2,0.3,0.4,0.5,0.6,0.7,0.8,0.9,1], "tickSize": {"condition": {"test": "datum.value==0.01||datum.value==0.1||datum.value==1", "value": -10}, "value": -6}, "labelExpr": "datum.value==0.01?'10⁻²':datum.value==0.1?'0.1':datum.value==1?'1':''", "labelPadding": 25, "labelFlush": false, "title": null}},
         "y": {"field": "v", "type": "quantitative", "scale": {"type": "log", "domain": [0.05, 920], "nice": false},
               "axis": {"orient": "left", "values": [0.05,0.06,0.07,0.08,0.09,0.1,0.2,0.3,0.4,0.5,0.6,0.7,0.8,0.9,1,2,3,4,5,6,7,8,9,10,20,30,40,50,60,70,80,90,100,200,300,400,500,600,700,800,900], "tickSize": {"condition": {"test": "datum.value==0.1||datum.value==1||datum.value==10||datum.value==100", "value": -10}, "value": -6}, "labels": false, "title": null}},
         "color": {"field": "s", "type": "nominal", "legend": null, "scale": {"domain": ["red","org","grn","blu","kdd","kda","yel","mag","nav"], "range": ["#ff2a2a","#ffb21a","#0b5d2e","#2e3192","#000000","#000000","#ffea00","#e6168a","#2e3192"]}},
         "strokeDash": {"field": "s", "type": "nominal", "legend": null, "scale": {"domain": ["red","org","grn","blu","kdd","kda","yel","mag","nav"], "range": [[3.5,6],[20,7,5,7],[14,9],[1,0],[12,6,3,6],[10,6],[1,0],[1,0],[1,0]]}},
         "strokeWidth": {"field": "s", "type": "nominal", "legend": null, "scale": {"domain": ["red","org","grn","blu","kdd","kda","yel","mag","nav"], "range": [3.5,6,4.5,4.5,4,4,6,5,2]}}
       }},
      {"data": {"name": "gerr"}, "transform": [{"filter": "datum.p=='m'"}], "mark": {"type": "errorbar", "ticks": true, "size": 17, "thickness": 4, "color": "#9a9a9a"},
       "encoding": {"x": {"field": "R", "type": "quantitative", "axis": null}, "y": {"field": "lo", "type": "quantitative", "axis": null}, "y2": {"field": "hi"}}},
      {"data": {"name": "pts"}, "transform": [{"filter": "datum.p=='m'"}], "mark": {"type": "errorbar", "ticks": true, "size": 17, "thickness": 4, "color": "#000"},
       "encoding": {"x": {"field": "R", "type": "quantitative", "axis": null}, "y": {"field": "lo", "type": "quantitative", "axis": null}, "y2": {"field": "hi"}}},
      {"data": {"name": "pts"}, "transform": [{"filter": "datum.p=='m'"}], "mark": {"type": "point", "filled": true, "shape": "circle", "size": 230, "color": "#000", "opacity": 1},
       "encoding": {
         "x": {"field": "R", "type": "quantitative", "axis": {"orient": "top", "values": [0.01,0.02,0.03,0.04,0.05,0.06,0.07,0.08,0.09,0.1,0.2,0.3,0.4,0.5,0.6,0.7,0.8,0.9,1], "tickSize": {"condition": {"test": "datum.value==0.01||datum.value==0.1||datum.value==1", "value": -10}, "value": -6}, "labels": false, "title": null}},
         "y": {"field": "v", "type": "quantitative", "axis": {"orient": "right", "values": [0.05,0.06,0.07,0.08,0.09,0.1,0.2,0.3,0.4,0.5,0.6,0.7,0.8,0.9,1,2,3,4,5,6,7,8,9,10,20,30,40,50,60,70,80,90,100,200,300,400,500,600,700,800,900], "tickSize": {"condition": {"test": "datum.value==0.1||datum.value==1||datum.value==10||datum.value==100", "value": -10}, "value": -6}, "labels": false, "title": null}}}},
      {"data": {"values": [{}]}, "mark": {"type": "text", "text": "m)", "font": "Liberation Serif", "fontSize": 37, "align": "left", "baseline": "alphabetic", "color": "#000"},
       "encoding": {"x": {"datum": 1.023, "axis": null}, "y": {"datum": 200, "axis": null}}}
    ]
  }
]
}
